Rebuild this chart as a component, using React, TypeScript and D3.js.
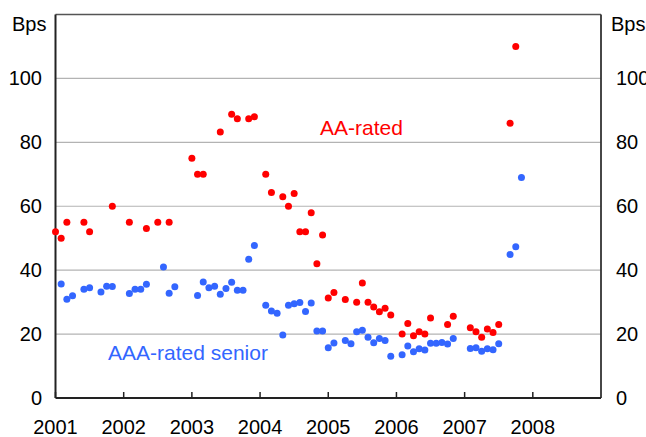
import React from "react";
import * as d3 from "d3";

const W = 646;
const H = 437;

// month index counted from Jan 2001
const aaMonths = [0, 1, 2, 5, 6, 10, 13, 16, 18, 20, 24, 25, 26, 29, 31, 32, 34, 35, 37, 38, 40, 41, 42, 43, 44, 45, 46, 47, 48, 49, 51, 53, 54, 55, 56, 57, 58, 59, 61, 62, 63, 64, 65, 66, 69, 70, 73, 74, 75, 76, 77, 78, 80, 81];
const aaValues = [52, 50, 55, 55, 52, 60, 55, 53, 55, 55, 75, 70, 70, 83.2, 88.8, 87.4, 87.4, 88, 70, 64.3, 63, 60, 64, 52, 52, 58, 42, 51, 31.3, 33, 30.8, 30, 36, 30, 28.5, 27, 28.1, 26, 20, 23.3, 19.5, 20.7, 20, 25, 23, 25.6, 22, 20.7, 19, 21.6, 20.5, 23, 86, 110];

const aaaMonths = [1, 2, 3, 5, 6, 8, 9, 10, 13, 14, 15, 16, 19, 20, 21, 25, 26, 27, 28, 29, 30, 31, 32, 33, 34, 35, 37, 38, 39, 40, 41, 42, 43, 44, 45, 46, 47, 48, 49, 51, 52, 53, 54, 55, 56, 57, 58, 59, 61, 62, 63, 64, 65, 66, 67, 68, 69, 70, 73, 74, 75, 76, 77, 78, 80, 81, 82];
const aaaValues = [35.7, 30.9, 32, 34, 34.5, 33.2, 35, 34.9, 32.7, 34, 34, 35.6, 41, 32.8, 34.8, 32.1, 36.3, 34.5, 35, 32.5, 34.3, 36.2, 33.7, 33.7, 43.4, 47.7, 29, 27.2, 26.5, 19.7, 29, 29.5, 29.9, 27.1, 29.7, 21, 21, 15.7, 17.2, 18, 17, 20.7, 21.2, 19, 17.3, 18.6, 18, 13.1, 13.5, 16.3, 14.5, 15.4, 15, 17.1, 17.1, 17.4, 16.9, 18.6, 15.5, 15.7, 14.6, 15.4, 15.1, 17, 44.9, 47.3, 69];

const yearTicks = [2001, 2002, 2003, 2004, 2005, 2006, 2007, 2008];
const yTicks = [0, 20, 40, 60, 80, 100];

const RED = "#ff0000";
const BLUE = "#3366ff";
const FONT = "'Liberation Sans', Arial, sans-serif";

export default function App() {
  const left = 55.5, right = 601, top = 14.5, bottom = 398;
  const x = d3.scaleLinear().domain([2001, 2009]).range([left, right]);
  const y = d3.scaleLinear().domain([0, 120]).range([bottom, top]);
  const mx = (m: number) => x(2001 + m / 12);

  return (
    <svg width={W} height={H} style={{ position: "absolute", left: 0, top: 0, background: "#fff" }}
      fontFamily={FONT}>
      {yTicks.filter((t) => t > 0).map((t) => (
        <line key={"g" + t} x1={left} x2={right} y1={y(t)} y2={y(t)} stroke="#b3b3b3" strokeWidth={1.2} />
      ))}
      {/* frame */}
      <line x1={left} x2={right} y1={top} y2={top} stroke="#555" strokeWidth={1.5} />
      <line x1={right} x2={right} y1={top} y2={bottom} stroke="#333" strokeWidth={1.8} />
      <line x1={left} x2={left} y1={top} y2={bottom} stroke="#222" strokeWidth={2} />
      <line x1={left} x2={right} y1={bottom} y2={bottom} stroke="#222" strokeWidth={2} />
      {yearTicks.map((t) => (
        <g key={"x" + t}>
          <line x1={x(t)} x2={x(t)} y1={bottom} y2={bottom - 6} stroke="#222" strokeWidth={1.5} />
          <text x={x(t)} y={434} textAnchor="middle" fontSize={20} fill="#000">{t}</text>
        </g>
      ))}
      {yTicks.map((t) => (
        <g key={"y" + t}>
          <text x={42} y={y(t) + 7} textAnchor="end" fontSize={20} fill="#000">{t}</text>
          <text x={616} y={y(t) + 7} textAnchor="start" fontSize={20} fill="#000">{t}</text>
        </g>
      ))}
      <text x={12} y={31} fontSize={20} fill="#000">Bps</text>
      <text x={611} y={31} fontSize={20} fill="#000">Bps</text>
      {aaaMonths.map((m, i) => (
        <circle key={"b" + i} cx={mx(m)} cy={y(aaaValues[i])} r={3.5} fill={BLUE} />
      ))}
      {aaMonths.map((m, i) => (
        <circle key={"r" + i} cx={mx(m)} cy={y(aaValues[i])} r={3.5} fill={RED} />
      ))}
      <text x={320} y={135} fontSize={21} fill={RED}>AA-rated</text>
      <text x={108} y={360} fontSize={21} fill={BLUE}>AAA-rated senior</text>
    </svg>
  );
}
